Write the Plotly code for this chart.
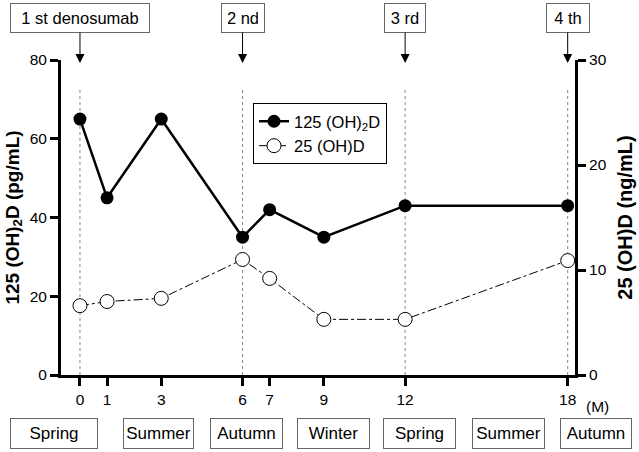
import plotly.graph_objects as go

months = [0, 1, 3, 6, 7, 9, 12, 18]
d125 = [65, 45, 65, 35, 42, 35, 43, 43]          # pg/mL, left axis
d25 = [6.6, 7.0, 7.3, 11.0, 9.2, 5.3, 5.3, 10.9]  # ng/mL, right axis
injections = [0, 6, 12, 18]
injection_labels = ["1 st denosumab", "2 nd", "3 rd", "4 th"]
seasons = ["Spring", "Summer", "Autumn", "Winter", "Spring", "Summer", "Autumn"]
left_ticks = [0, 20, 40, 60, 80]
right_ticks = [0, 10, 20, 30]

FONT = "Liberation Sans, Arial, sans-serif"

# layout geometry (pixels)
L, R, T, B = 61, 64, 60, 77
W, H = 639, 452
PW, PH = W - L - R, H - T - B


def px2paper_x(px):
    return (px - L) / PW


def px2paper_y(py):
    return (H - B - py) / PH


fig = go.Figure()
fig.add_trace(go.Scatter(
    x=months, y=d125, name="125 (OH)<sub>2</sub>D", mode="lines+markers",
    line=dict(color="black", width=2.5),
    marker=dict(symbol="circle", size=13, color="black"),
    yaxis="y"))
fig.add_trace(go.Scatter(
    x=months, y=d25, name="25 (OH)D", mode="lines+markers",
    line=dict(color="black", width=1, dash="dashdot"),
    marker=dict(symbol="circle", size=14, color="white", line=dict(color="black", width=1)),
    yaxis="y2"))

shapes = []
for m in injections:
    shapes.append(dict(type="line", xref="x", yref="paper", x0=m, x1=m, y0=0, y1=px2paper_y(87),
                       line=dict(color="#888", width=1, dash="dot"), layer="below"))

annotations = []
box_widths = [126, 30, 28, 30]
for m, lab, bw in zip(injections, injection_labels, box_widths):
    annotations.append(dict(
        x=m, y=px2paper_y(63), xref="x", yref="paper", text=lab,
        showarrow=True, ax=0, ay=-45, arrowhead=2, arrowsize=1.8, arrowwidth=1, arrowcolor="black",
        bordercolor="#666", borderwidth=1, borderpad=6, bgcolor="white",
        width=bw, height=16, font=dict(family=FONT, size=16.5, color="black")))

season_boxes = [(10, 98), (123, 194), (210, 283), (297, 370), (383, 456), (472, 545), (560, 632)]
for s, (a, b) in zip(seasons, season_boxes):
    annotations.append(dict(
        x=px2paper_x((a + b) / 2), y=px2paper_y(433.5), xref="paper", yref="paper",
        text=s, showarrow=False, xanchor="center", yanchor="middle",
        bordercolor="#666", borderwidth=1, borderpad=2, bgcolor="white",
        width=b - a - 6, height=25, font=dict(family=FONT, size=17, color="black")))

annotations.append(dict(x=px2paper_x(584), y=px2paper_y(406), xref="paper", yref="paper",
                        xanchor="left", yanchor="middle",
                        text="(M)", showarrow=False, font=dict(family=FONT, size=15.5, color="black")))

fig.update_layout(
    width=W, height=H,
    margin=dict(l=L, r=R, t=T, b=B, autoexpand=False),
    paper_bgcolor="white", plot_bgcolor="white",
    font=dict(family=FONT, size=15.5, color="black"),
    showlegend=True,
    legend=dict(x=px2paper_x(253), y=px2paper_y(103), xanchor="left", yanchor="top",
                bordercolor="black", borderwidth=1, bgcolor="white",
                font=dict(family=FONT, size=16.5, color="black"), tracegroupgap=0),
    xaxis=dict(range=[-0.7, 18.27], tickmode="array", tickvals=months, ticktext=[str(m) for m in months],
               showline=True, linecolor="black", linewidth=3, ticks="outside", ticklen=8, tickwidth=3,
               tickcolor="black", showgrid=False, zeroline=False, tickfont=dict(size=15.5)),
    yaxis=dict(range=[0, 80], tickvals=left_ticks, showline=True, linecolor="black", linewidth=3,
               ticks="outside", ticklen=8, tickwidth=2.5, tickcolor="black", showgrid=False, zeroline=False,
               title=dict(text="<b>125 (OH)<sub>2</sub>D (pg/mL)</b>", font=dict(size=19), standoff=6),
               tickfont=dict(size=15.5)),
    yaxis2=dict(range=[0, 30], tickvals=right_ticks, overlaying="y", side="right", showline=True,
                linecolor="black", linewidth=3, ticks="outside", ticklen=8, tickwidth=2.5, tickcolor="black",
                showgrid=False, zeroline=False,
                title=dict(text="<b>25 (OH)D (ng/mL)</b>", font=dict(size=20), standoff=13),
                tickfont=dict(size=15.5)),
    shapes=shapes,
    annotations=annotations,
)

fig.write_html("out.html", config={"displayModeBar": False},
               post_script="document.body.style.margin='0';document.body.style.padding='0';")
